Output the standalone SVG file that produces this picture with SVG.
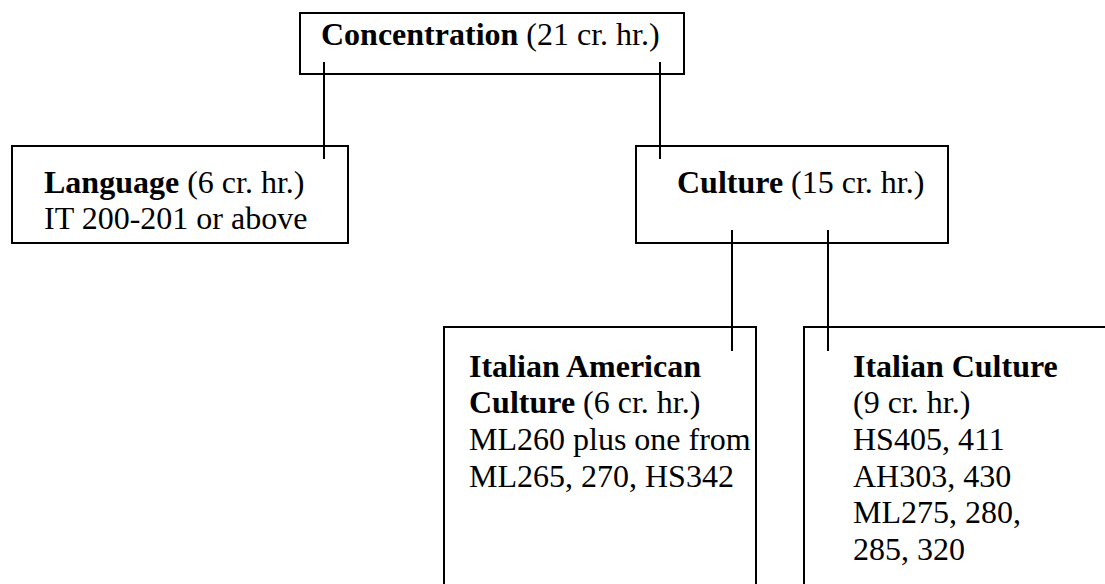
<svg xmlns="http://www.w3.org/2000/svg" width="1105" height="584" viewBox="0 0 1105 584">
<style>
.box{fill:#fff;stroke:#000;stroke-width:2}
.ln{fill:none;stroke:#000;stroke-width:2}
text{font-family:"Liberation Serif","Times New Roman",serif;font-size:32px;fill:#000}
.b{font-weight:bold}
</style>
<rect width="1105" height="584" fill="#fff"/>
<g id="n-concentration">
<rect class="box" x="300" y="13" width="384" height="61"/>
<text x="321" y="45"><tspan class="b">Concentration</tspan> (21 cr. hr.)</text>
</g>
<g id="n-language">
<rect class="box" x="12" y="146" width="336" height="97"/>
<text x="44" y="193"><tspan class="b">Language</tspan> (6 cr. hr.)</text>
<text x="44" y="229">IT 200-201 or above</text>
</g>
<g id="n-culture">
<rect class="box" x="636" y="146" width="312" height="97"/>
<text x="677" y="193"><tspan class="b">Culture</tspan> (15 cr. hr.)</text>
</g>
<g id="n-italian-american">
<path class="ln" d="M444,590 V327 H756 V590"/>
<text x="469" y="377" class="b">Italian American</text>
<text x="469" y="413"><tspan class="b">Culture</tspan> (6 cr. hr.)</text>
<text x="469" y="450">ML260 plus one from</text>
<text x="469" y="487">ML265, 270, HS342</text>
</g>
<g id="n-italian-culture">
<path class="ln" d="M804,590 V327 H1110"/>
<text x="853" y="377" class="b">Italian Culture</text>
<text x="853" y="413">(9 cr. hr.)</text>
<text x="853" y="450">HS405, 411</text>
<text x="853" y="487">AH303, 430</text>
<text x="853" y="523">ML275, 280,</text>
<text x="853" y="560">285, 320</text>
</g>
<g id="connectors">
<line class="ln" x1="324" y1="62" x2="324" y2="159"/>
<line class="ln" x1="660" y1="62" x2="660" y2="159"/>
<line class="ln" x1="732" y1="230" x2="732" y2="351"/>
<line class="ln" x1="828" y1="230" x2="828" y2="351"/>
</g>
</svg>
